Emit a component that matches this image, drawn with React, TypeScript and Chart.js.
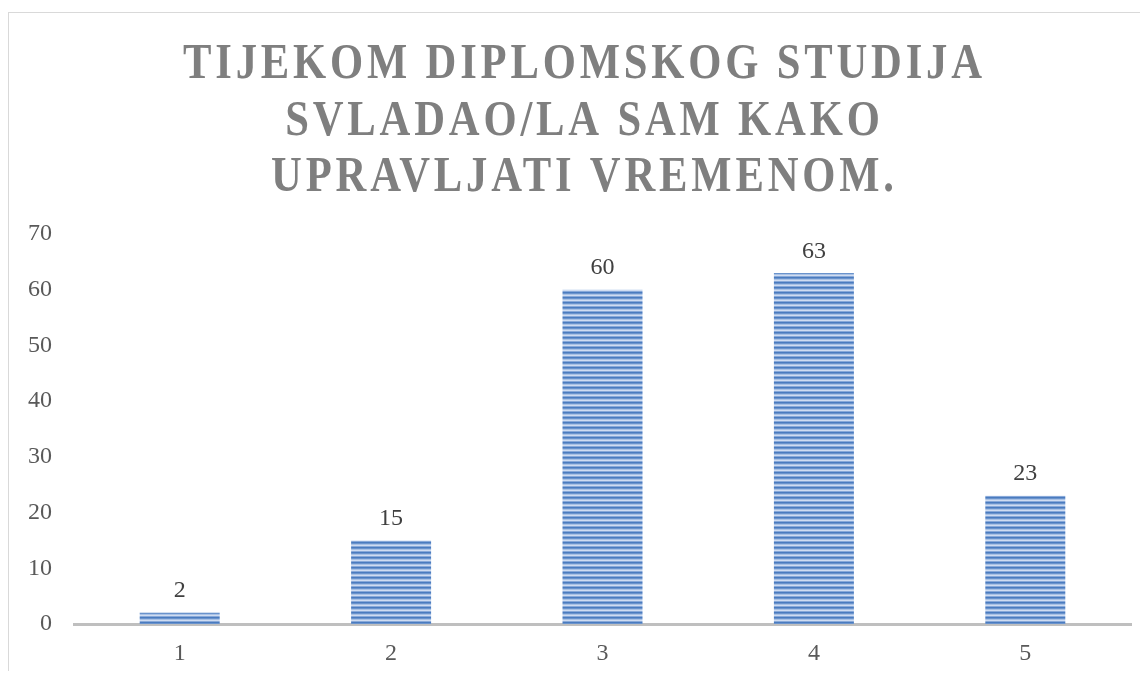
import React, { useEffect, useRef } from "react";
import { Chart, registerables } from "chart.js";

Chart.register(...registerables);

const titleLines = ["TIJEKOM DIPLOMSKOG STUDIJA", "SVLADAO/LA SAM KAKO", "UPRAVLJATI VREMENOM."];
const categories = ["1", "2", "3", "4", "5"];
const values = [2, 15, 60, 63, 23];
const yTicks = [0, 10, 20, 30, 40, 50, 60, 70];

const CANVAS_W = 1140;
const CANVAS_H = 659;

function makeStripePattern(): CanvasPattern | string {
  const c = document.createElement("canvas");
  const rows = ["#4a7bbf", "#6a93cc", "#a8c1e5", "#cfdcf1", "#88a9d9"];
  c.width = 8;
  c.height = rows.length;
  const g = c.getContext("2d");
  if (!g) return "#5b87c8";
  rows.forEach((col, i) => {
    g.fillStyle = col;
    g.fillRect(0, i, 8, 1);
  });
  const p = g.createPattern(c, "repeat");
  return p || "#5b87c8";
}

const titlePlugin = {
  id: "customTitle",
  afterDraw(chart: any) {
    const ctx = chart.ctx as CanvasRenderingContext2D;
    ctx.save();
    ctx.font = "bold 50px 'Liberation Serif', serif";
    ctx.fillStyle = "#7f7f7f";
    ctx.textAlign = "left";
    ctx.textBaseline = "alphabetic";
    const spacing = 4.5;
    const first = titleLines[0];
    const natural = ctx.measureText(first).width;
    const sx = 799 / (natural + spacing * (first.length - 1));
    (ctx as any).letterSpacing = spacing + "px";
    const cx = 574.5;
    const baselines = [66, 123, 179];
    titleLines.forEach((line, i) => {
      const w = ctx.measureText(line).width - spacing;
      ctx.save();
      ctx.translate(cx, baselines[i]);
      ctx.scale(sx, 1);
      ctx.fillText(line, -w / 2, 0);
      ctx.restore();
    });
    ctx.restore();
  },
};

const valueLabelPlugin = {
  id: "valueLabels",
  afterDatasetsDraw(chart: any) {
    const ctx = chart.ctx as CanvasRenderingContext2D;
    const meta = chart.getDatasetMeta(0);
    ctx.save();
    ctx.font = "24px 'Liberation Serif', serif";
    ctx.fillStyle = "#404040";
    ctx.textAlign = "center";
    ctx.textBaseline = "alphabetic";
    meta.data.forEach((bar: any, i: number) => {
      ctx.fillText(String(values[i]), bar.x, bar.y - 15.5);
    });
    ctx.restore();
  },
};

export default function App() {
  const ref = useRef<HTMLCanvasElement | null>(null);

  useEffect(() => {
    if (!ref.current) return;
    const chart = new Chart(ref.current, {
      type: "bar",
      data: {
        labels: categories,
        datasets: [
          {
            data: values,
            backgroundColor: makeStripePattern() as any,
            borderWidth: 0,
            barPercentage: 0.3784,
            categoryPercentage: 1,
          },
        ],
      },
      options: {
        responsive: false,
        animation: false,
        devicePixelRatio: 1,
        layout: { padding: { top: 222, right: 17, left: 0, bottom: 0 } },
        plugins: {
          legend: { display: false },
          title: { display: false },
          tooltip: { enabled: false },
        },
        scales: {
          x: {
            grid: { display: false, drawTicks: false },
            border: { display: true, color: "#bfbfbf", width: 3 },
            ticks: {
              color: "#595959",
              font: { family: "'Liberation Serif', serif", size: 24 },
              padding: 15,
            },
            afterFit: (scale: any) => {
              scale.height = 47;
            },
          },
          y: {
            min: 0,
            max: 70,
            grid: { display: false, drawTicks: false },
            border: { display: false },
            afterBuildTicks: (scale: any) => {
              scale.ticks = yTicks.map((v) => ({ value: v }));
            },
            ticks: {
              color: "#595959",
              font: { family: "'Liberation Serif', serif", size: 24 },
              padding: 22,
            },
            afterFit: (scale: any) => {
              scale.width = 66;
            },
          },
        },
      },
      plugins: [titlePlugin, valueLabelPlugin],
    });
    return () => chart.destroy();
  }, []);

  return (
    <div style={{ position: "relative", width: CANVAS_W, height: CANVAS_H + 4, overflow: "hidden" }}>
      <div
        style={{
          position: "absolute",
          left: 0,
          top: 4,
          width: 1300,
          height: 900,
          border: "1px solid #d9d9d9",
          boxSizing: "border-box",
        }}
      />
      <canvas
        ref={ref}
        width={CANVAS_W}
        height={CANVAS_H}
        style={{ position: "absolute", left: 0, top: 4, width: CANVAS_W, height: CANVAS_H }}
      />
    </div>
  );
}
